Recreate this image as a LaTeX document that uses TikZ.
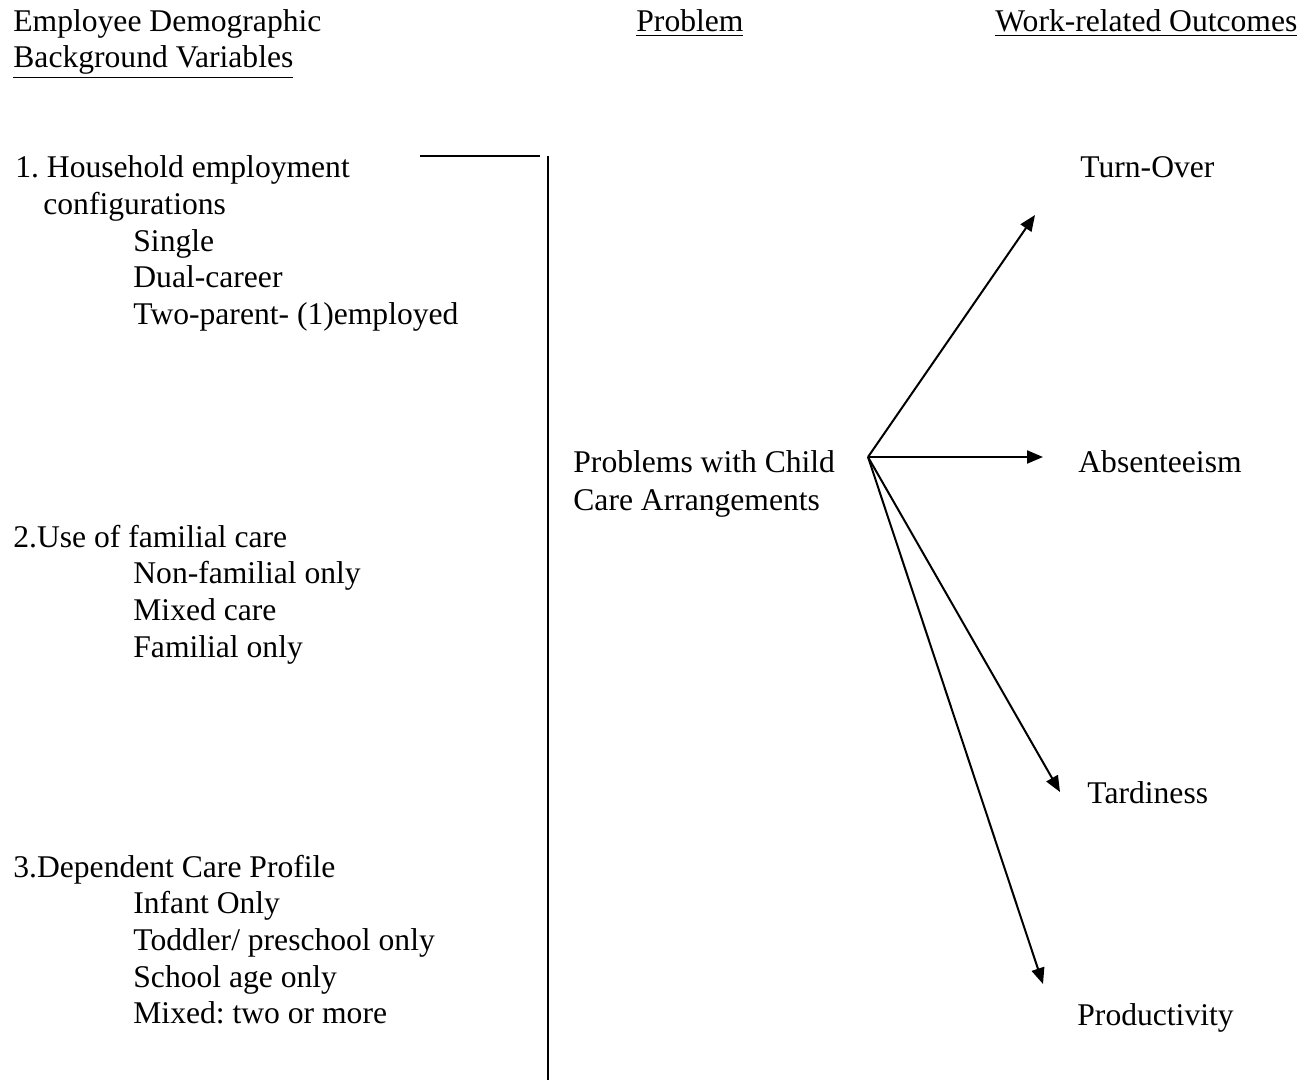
\documentclass[tikz,border=0pt]{standalone}
\usepackage{fontspec}
\setmainfont{Liberation Serif}
\usetikzlibrary{arrows.meta}
\frenchspacing
\begin{document}
\begin{tikzpicture}[x=0.5pt,y=-0.5pt,
  txt/.style={anchor=base west,inner sep=0pt,font=\fontsize{15.8}{18}\selectfont},
  rule/.style={line width=1.2pt},
  arr/.style={line width=1pt,-{Triangle[length=8pt,width=6.5pt]}}]
\useasboundingbox (0,0) rectangle (1311,1080);
% headers
\node[txt] (h1a) at (13,32) {Employee Demographic};
\node[txt] (h1b) at (13,68) {\underline{Background Variables}};
\node[txt] (h2) at (636,32) {\underline{Problem}};
\node[txt] (h3) at (995,32) {\underline{Work-related Outcomes}};
% rules
\coordinate (hl) at (420,156);
\coordinate (hr) at (540,156);
\coordinate (vt) at (548,156);
\coordinate (vb) at (548,1080);
\draw[rule] (hl) -- (hr);
\draw[rule] (vt) -- (vb);
% group 1
\node[txt] (g1) at (15,178) {1. Household employment};
\node[txt] (g1b) at (43,215) {configurations};
\node[txt] (g1i) at (133,252) {Single};
\node[txt] (g1j) at (133,288) {Dual-career};
\node[txt] (g1k) at (133,325) {Two-parent- (1)employed};
% group 2
\node[txt] (g2) at (13,547) {2.Use of familial care};
\node[txt] (g2i) at (133,583) {Non-familial only};
\node[txt] (g2j) at (133,620) {Mixed care};
\node[txt] (g2k) at (133,657) {Familial only};
% group 3
\node[txt] (g3) at (13,877) {3.Dependent Care Profile};
\node[txt] (g3i) at (133,913) {Infant Only};
\node[txt] (g3j) at (133,950) {Toddler/ preschool only};
\node[txt] (g3k) at (133,987) {School age only};
\node[txt] (g3l) at (133,1023) {Mixed: two or more};
% problem
\node[txt] (p1) at (573,473) {Problems with Child};
\node[txt] (p2) at (573,510) {Care Arrangements};
% outcomes
\node[txt] (o1) at (1080,178) {Turn-Over};
\node[txt] (o2) at (1078,473) {Absenteeism};
\node[txt] (o3) at (1087,803) {Tardiness};
\node[txt] (o4) at (1077,1025) {Productivity};
% arrows
\coordinate (src) at (868,457);
\coordinate (t1) at (1035,215);
\coordinate (t2) at (1043,457);
\coordinate (t3) at (1060,792);
\coordinate (t4) at (1043,984);
\draw[arr] (src) -- (t1);
\draw[arr] (src) -- (t2);
\draw[arr] (src) -- (t3);
\draw[arr] (src) -- (t4);
\end{tikzpicture}
\end{document}
